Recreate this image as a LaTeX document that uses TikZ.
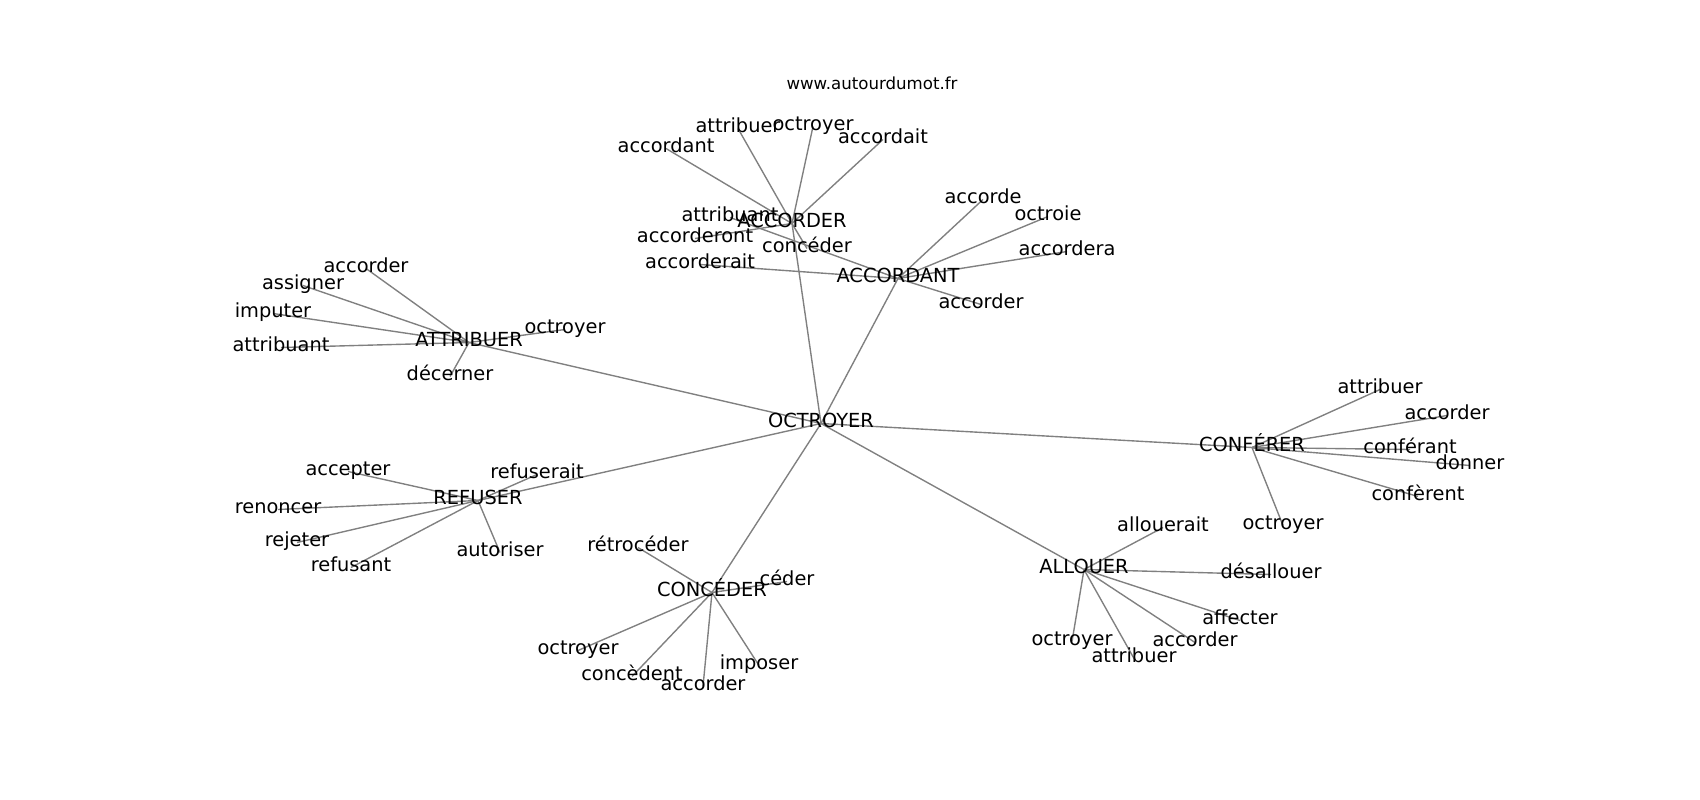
\documentclass[tikz,border=0pt]{standalone}
\usepackage{fontspec}
\setmainfont{DejaVu Sans}
\usetikzlibrary{backgrounds}
\begin{document}
\begin{tikzpicture}[x=0.01in,y=-0.01in,
  lbl/.style={inner sep=0pt, text height=0.76em, text depth=0.208em, font=\fontsize{14}{16}\selectfont, yshift=-0.035in},
  ttl/.style={inner sep=0pt, text height=0.76em, text depth=0.208em, font=\fontsize{12}{14}\selectfont, yshift=-0.03in},
  edge/.style={draw=gray, line width=1pt}]
\useasboundingbox (0,0) rectangle (1700,800);
\node[ttl] (title) at (872,83) {www.autourdumot.fr};
% hubs
\node[lbl] (oct) at (821,420) {OCTROYER};
\node[lbl] (acd) at (792,220) {ACCORDER};
\node[lbl] (acdt) at (898,275) {ACCORDANT};
\node[lbl] (att) at (469,339) {ATTRIBUER};
\node[lbl] (ref) at (478,497) {REFUSER};
\node[lbl] (conc) at (712,589) {CONCÉDER};
\node[lbl] (conf) at (1252,444) {CONFÉRER};
\node[lbl] (all) at (1084,566) {ALLOUER};
% ACCORDER
\node[lbl] (acdA) at (666,145) {accordant};
\node[lbl] (acdB) at (738,125) {attribuer};
\node[lbl] (acdC) at (813,123) {octroyer};
\node[lbl] (acdD) at (883,136) {accordait};
\node[lbl] (acdE) at (695,235) {accorderont};
\node[lbl] (acdF) at (807,245) {concéder};
% ACCORDANT
\node[lbl] (acdtA) at (983,196) {accorde};
\node[lbl] (acdtB) at (1048,213) {octroie};
\node[lbl] (acdtC) at (1067,248) {accordera};
\node[lbl] (acdtD) at (981,301) {accorder};
\node[lbl] (acdtE) at (700,261) {accorderait};
\node[lbl] (acdtF) at (730,214) {attribuant};
% ATTRIBUER
\node[lbl] (attA) at (366,265) {accorder};
\node[lbl] (attB) at (303,282) {assigner};
\node[lbl] (attC) at (273,310) {imputer};
\node[lbl] (attD) at (281,344) {attribuant};
\node[lbl] (attE) at (565,326) {octroyer};
\node[lbl] (attF) at (450,373) {décerner};
% REFUSER
\node[lbl] (refA) at (348,468) {accepter};
\node[lbl] (refB) at (537,471) {refuserait};
\node[lbl] (refC) at (278,506) {renoncer};
\node[lbl] (refD) at (297,539) {rejeter};
\node[lbl] (refE) at (351,564) {refusant};
\node[lbl] (refF) at (500,549) {autoriser};
% CONCEDER
\node[lbl] (concA) at (638,544) {rétrocéder};
\node[lbl] (concB) at (787,578) {céder};
\node[lbl] (concC) at (578,647) {octroyer};
\node[lbl] (concD) at (632,673) {concèdent};
\node[lbl] (concE) at (703,683) {accorder};
\node[lbl] (concF) at (759,662) {imposer};
% CONFERER
\node[lbl] (confA) at (1380,386) {attribuer};
\node[lbl] (confB) at (1447,412) {accorder};
\node[lbl] (confC) at (1410,446) {conférant};
\node[lbl] (confD) at (1470,462) {donner};
\node[lbl] (confE) at (1418,493) {confèrent};
\node[lbl] (confF) at (1283,522) {octroyer};
% ALLOUER
\node[lbl] (allA) at (1163,524) {allouerait};
\node[lbl] (allB) at (1271,571) {désallouer};
\node[lbl] (allC) at (1240,617) {affecter};
\node[lbl] (allD) at (1195,639) {accorder};
\node[lbl] (allE) at (1134,655) {attribuer};
\node[lbl] (allF) at (1072,638) {octroyer};
\begin{scope}[on background layer]
\foreach \a/\b in {oct/acd,oct/acdt,oct/att,oct/ref,oct/conc,oct/conf,oct/all,
  acd/acdA,acd/acdB,acd/acdC,acd/acdD,acd/acdE,acd/acdF,
  acdt/acdtA,acdt/acdtB,acdt/acdtC,acdt/acdtD,acdt/acdtE,acdt/acdtF,
  att/attA,att/attB,att/attC,att/attD,att/attE,att/attF,
  ref/refA,ref/refB,ref/refC,ref/refD,ref/refE,ref/refF,
  conc/concA,conc/concB,conc/concC,conc/concD,conc/concE,conc/concF,
  conf/confA,conf/confB,conf/confC,conf/confD,conf/confE,conf/confF,
  all/allA,all/allB,all/allC,all/allD,all/allE,all/allF}
  \draw[edge] (\a.center) -- (\b.center);
\end{scope}
\end{tikzpicture}
\end{document}
